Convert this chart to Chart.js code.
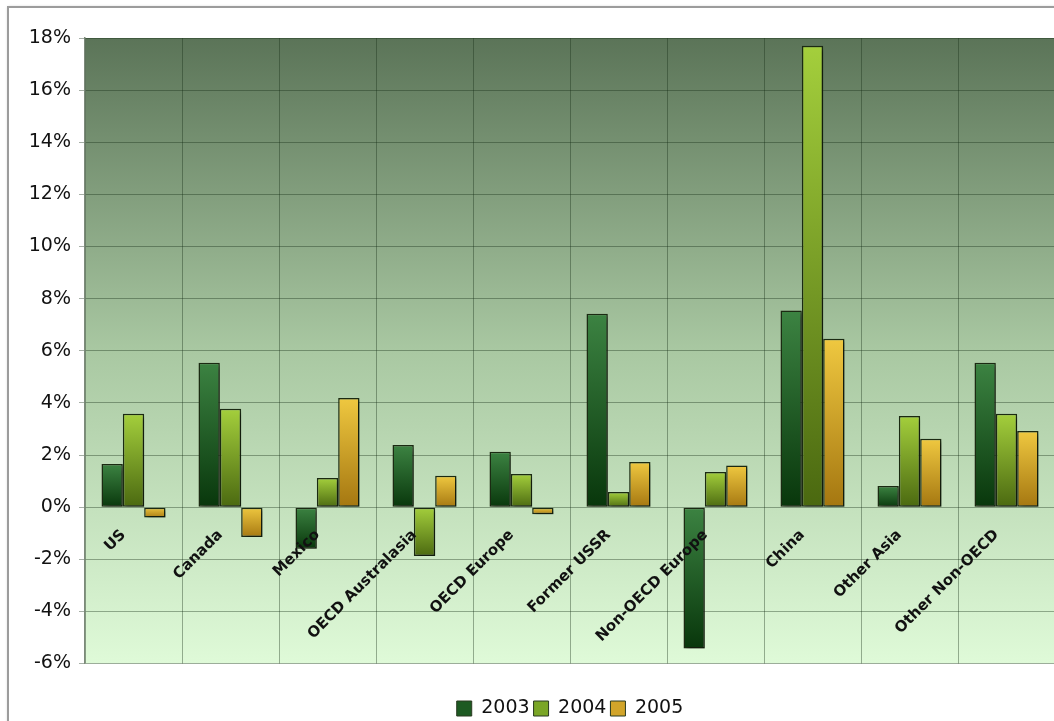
<!DOCTYPE html>
<html>
<head>
<meta charset="utf-8">
<script src="https://cdn.jsdelivr.net/npm/chart.js@4"></script>
<style>
  html, body { margin: 0; background: #fff; overflow: hidden; }
  #frame { position: absolute; left: 7px; top: 6px; width: 1200px; height: 800px; border: 2px solid #9c9c9c; box-shadow: 1px 1px 3px rgba(0,0,0,0.25); }
  #wrap { position: absolute; left: 0; top: 0; width: 1140px; height: 728px; }
</style>
</head>
<body>
<div id="frame"></div>
<div id="wrap"><canvas id="growthChart"></canvas></div>
<script>
// data
const categories = ['US', 'Canada', 'Mexico', 'OECD Australasia', 'OECD Europe', 'Former USSR',
  'Non-OECD Europe', 'China', 'Other Asia', 'Other Non-OECD'];
const years = ['2003', '2004', '2005'];
const growth2003 = [1.65, 5.54, -1.6, 2.38, 2.12, 7.42, -5.42, 7.54, 0.81, 5.54];
const growth2004 = [3.58, 3.77, 1.12, -1.88, 1.27, 0.58, 1.35, 17.7, 3.5, 3.58];
const growth2005 = [-0.4, -1.15, 4.19, 1.2, -0.27, 1.73, 1.6, 6.46, 2.62, 2.92];
const yMin = -6;
const yMax = 18;
const yStep = 2;

const legendColors = ['#1d5a22', '#7aa626', '#d2a52a'];

function barFill(top, bottom, solid) {
  return function (c) {
    if (c.type !== 'data' || !c.chart.chartArea || typeof c.raw !== 'number') return solid;
    let y = c.chart.scales.y;
    let a = y.getPixelForValue(c.raw);
    let b = y.getPixelForValue(0);
    let g = c.chart.ctx.createLinearGradient(0, Math.min(a, b), 0, Math.max(a, b) + 1);
    g.addColorStop(0, top);
    g.addColorStop(1, bottom);
    return g;
  };
}

const plotBackground = {
  id: 'plotBackground',
  beforeDraw(chart) {
    let ctx = chart.ctx, a = chart.chartArea;
    let g = ctx.createLinearGradient(0, a.top, 0, a.bottom);
    g.addColorStop(0, '#5b7458');
    g.addColorStop(0.5, '#a9c8a2');
    g.addColorStop(1, '#dffad8');
    ctx.save();
    ctx.fillStyle = g;
    ctx.fillRect(a.left, a.top, a.width, a.height);
    ctx.restore();
  }
};

const barShadow = {
  id: 'barShadow',
  beforeDatasetsDraw(chart) {
    let ctx = chart.ctx;
    ctx.save();
    ctx.shadowColor = 'rgba(0,0,0,0.35)';
    ctx.shadowOffsetX = 3;
    ctx.shadowOffsetY = 3;
    ctx.shadowBlur = 3;
  },
  afterDatasetsDraw(chart) {
    chart.ctx.restore();
  }
};

function createGrowthChart() {
  let ctx = document.getElementById('growthChart').getContext('2d');
  let gridColor = 'rgba(20,45,20,0.38)';
  new Chart(ctx, {
    type: 'bar',
    data: {
      labels: categories,
      datasets: [
        { label: years[0], data: growth2003, backgroundColor: barFill('#3c8342', '#08360b', legendColors[0]) },
        { label: years[1], data: growth2004, backgroundColor: barFill('#a4cf3c', '#4a6810', legendColors[1]) },
        { label: years[2], data: growth2005, backgroundColor: barFill('#efc840', '#a47610', legendColors[2]) }
      ].map(ds => Object.assign(ds, {
        borderColor: '#1b2a12',
        borderWidth: 1.5,
        borderSkipped: false,
        barPercentage: 1,
        categoryPercentage: 0.66
      }))
    },
    options: {
      responsive: true,
      maintainAspectRatio: false,
      animation: false,
      layout: { padding: { top: 38, right: 0, left: 0, bottom: 0 } },
      plugins: {
        tooltip: { enabled: false },
        legend: {
          position: 'bottom',
          title: { display: true, text: ' ', font: { size: 10 }, padding: { top: 19.5, bottom: 0 } },
          labels: {
            color: '#111',
            font: { family: 'DejaVu Sans', size: 19 },
            boxWidth: 15,
            boxHeight: 15,
            padding: 4,
            generateLabels: chart => {
              let items = Chart.defaults.plugins.legend.labels.generateLabels(chart);
              items.forEach((item, i) => {
                item.fillStyle = legendColors[i];
                item.strokeStyle = '#2a3a20';
                item.lineWidth = 1;
              });
              return items;
            }
          }
        }
      },
      scales: {
        x: {
          position: { y: 0 },
          grid: { color: gridColor, offset: true, drawTicks: false },
          border: { display: false },
          ticks: {
            z: 1,
            color: '#111',
            font: { family: 'DejaVu Sans', size: 15, weight: 'bold' },
            minRotation: 45,
            maxRotation: 45,
            padding: 19,
            labelOffset: -10,
            autoSkip: false
          }
        },
        y: {
          min: yMin,
          max: yMax,
          grid: { color: gridColor, tickLength: 6 },
          border: { color: '#7c8a7a', width: 1.5 },
          ticks: {
            stepSize: yStep,
            color: '#111',
            padding: 8,
            font: { family: 'DejaVu Sans', size: 19 },
            callback: v => v + '%'
          },
          afterFit: scale => { scale.width = 85; }
        },
        // empty right-hand strip: the original picture is cropped on the right
        yRight: {
          position: 'right',
          grid: { display: false },
          border: { display: false },
          ticks: { display: false },
          afterFit: scale => { scale.width = 85; }
        }
      }
    },
    plugins: [plotBackground, barShadow]
  });
}

document.addEventListener('DOMContentLoaded', () => {
  createGrowthChart();
});
</script>
</body>
</html>
